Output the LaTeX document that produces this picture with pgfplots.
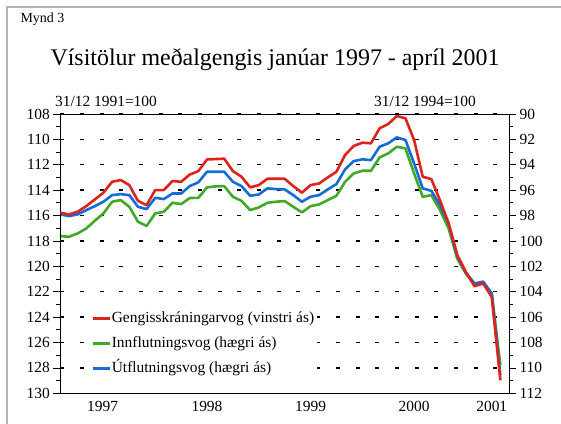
\documentclass[border=0pt]{standalone}
\usepackage{pgfplots}
\usepackage{pgfplotstable}
\pgfplotsset{compat=1.18}
\usepackage{fontspec}
\setmainfont{Liberation Serif}
\definecolor{cred}{RGB}{222,34,28}
\definecolor{cgreen}{RGB}{64,170,40}
\definecolor{cblue}{RGB}{22,108,214}
\pgfplotstableread{
m red green blue
0 115.78 99.62 97.91
1 115.91 99.67 98.04
2 115.70 99.41 97.91
3 115.26 99.02 97.57
4 114.73 98.41 97.26
5 114.20 97.83 96.91
6 113.34 96.91 96.39
7 113.20 96.78 96.31
8 113.60 97.31 96.39
9 114.84 98.49 97.31
10 115.18 98.81 97.49
11 113.99 97.83 96.60
12 113.99 97.70 96.70
13 113.28 96.99 96.26
14 113.34 97.10 96.26
15 112.77 96.62 95.68
16 112.50 96.60 95.38
17 111.58 95.78 94.55
18 111.55 95.70 94.55
19 111.52 95.68 94.55
20 112.50 96.52 95.34
21 112.94 96.84 95.68
22 113.78 97.57 96.44
23 113.60 97.36 96.34
24 113.10 96.99 95.86
25 113.10 96.91 95.91
26 113.10 96.86 95.94
27 113.68 97.31 96.39
28 114.20 97.75 96.91
29 113.60 97.26 96.52
30 113.47 97.12 96.39
31 112.99 96.78 95.94
32 112.55 96.44 95.52
33 111.23 95.34 94.36
34 110.52 94.68 93.71
35 110.26 94.47 93.57
36 110.31 94.47 93.63
37 109.13 93.42 92.58
38 108.79 93.10 92.31
39 108.16 92.58 91.84
40 108.34 92.71 92.05
41 110.05 94.68 93.89
42 112.94 96.52 95.86
43 113.13 96.39 96.05
44 114.80 97.57 97.18
45 116.60 99.02 98.62
46 119.10 101.38 101.20
47 120.44 102.57 102.50
48 121.56 103.41 103.35
49 121.35 103.25 103.20
50 122.41 104.14 104.14
51 128.98 109.79 110.60
}\data
\begin{document}
\begin{tikzpicture}[x=1bp,y=1bp]
\useasboundingbox (0,0) rectangle (561,423);
\draw[gray!60, line width=1.5bp] (7,-2) -- (7,416) -- (563,416);
\node[anchor=west, font=\fontsize{14}{16}\selectfont] at (17,404) {Mynd 3};
\node[font=\fontsize{24}{28}\selectfont] at (275,363) {Vísitölur meðalgengis janúar 1997 - apríl 2001};
\node[font=\fontsize{15.5}{18}\selectfont] at (106,322) {31/12 1991=100};
\node[font=\fontsize{15.5}{18}\selectfont] at (425,322) {31/12 1994=100};
% right axis (drawn first: grid, green, blue)
\begin{axis}[
  at={(60.3bp,29.7bp)}, anchor=south west, scale only axis,
  width=448.7bp, height=279.3bp,
  xmin=0, xmax=52, ymin=90, ymax=112, y dir=reverse,
  xtick=\empty,
  ytick={90,92,...,112}, minor ytick={91,93,...,111},
  ytick pos=right, tick align=outside,
  major tick length=7bp, minor tick length=4bp,
  tick style={black, line width=0.8bp},
  axis line style={draw=none},
  ymajorgrids,
  major grid style={black, line width=1.4bp, dash pattern=on 4bp off 15.68bp},
  tick label style={font=\fontsize{15.5}{18}\selectfont},
  /pgf/number format/assume math mode=true,
]
\addplot[cgreen, line width=2.6bp, line join=round, no markers] table[x=m,y=green]{\data};
\addplot[cblue, line width=2.6bp, line join=round, no markers] table[x=m,y=blue]{\data};
\end{axis}
% left axis (red, legend, box)
\begin{axis}[
  at={(60.3bp,29.7bp)}, anchor=south west, scale only axis,
  width=448.7bp, height=279.3bp,
  xmin=0, xmax=52, ymin=108, ymax=130, y dir=reverse,
  xtick=\empty, minor xtick={0,...,52},
  extra x ticks={4.9,17,29,41,50},
  extra x tick labels={1997,1998,1999,2000,2001},
  extra x tick style={major tick length=0pt},
  xticklabel style={yshift=-4.5bp},
  ytick={108,110,...,130}, minor ytick={109,111,...,129},
  tick pos=left, tick align=outside,
  major tick length=7bp, minor tick length=4bp,
  tick style={black, line width=0.8bp},
  axis line style={black, line width=0.8bp},
  tick label style={font=\fontsize{15.5}{18}\selectfont},
  /pgf/number format/assume math mode=true,
  legend style={at={(0.064,0.306)}, anchor=north west, draw=none, fill=white,
    inner sep=2bp, row sep=8bp, font=\fontsize{15.5}{18}\selectfont,
    nodes={inner sep=1bp, text height=11bp, text depth=4bp}},
  legend cell align=left,
  legend image code/.code={\draw[#1, line width=2.6bp] (0bp,0bp) -- (17bp,0bp);},
]
\addplot[cred, line width=2.6bp, line join=round, no markers] table[x=m,y=red]{\data};
\addlegendentry{Gengisskráningarvog (vinstri ás)}
\addlegendimage{cgreen}
\addlegendentry{Innflutningsvog (hægri ás)}
\addlegendimage{cblue}
\addlegendentry{Útflutningsvog (hægri ás)}
\end{axis}
\end{tikzpicture}
\end{document}
